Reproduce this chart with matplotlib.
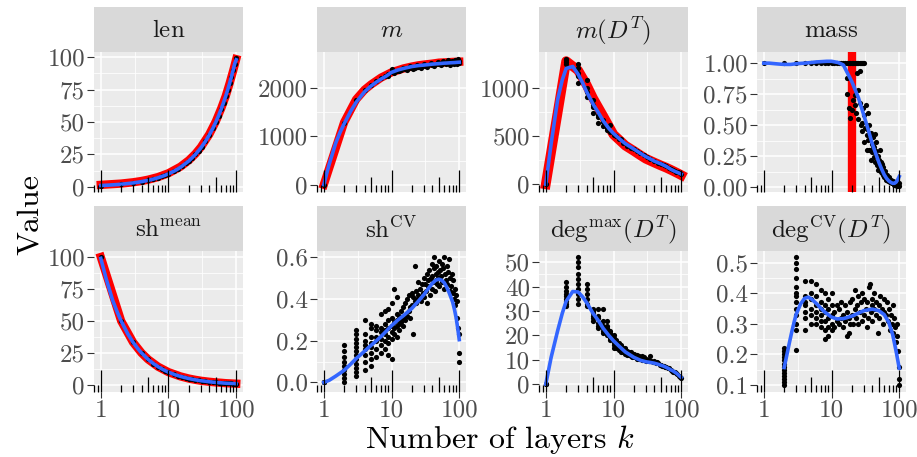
import matplotlib
matplotlib.use('Agg')
import matplotlib.pyplot as plt
import matplotlib.transforms as mtransforms

plt.rcParams['font.family'] = 'serif'
plt.rcParams['font.serif'] = ['cmr10']
plt.rcParams['mathtext.fontset'] = 'cm'
plt.rcParams['axes.formatter.use_mathtext'] = True
plt.rcParams['axes.unicode_minus'] = False

# ---- data ----
k_grid = [1, 2, 3, 4, 5, 6, 7, 8, 9, 10, 12, 14, 16, 18, 20, 22, 25, 28, 31, 35,
          40, 45, 50, 55, 60, 65, 70, 75, 80, 85, 90, 95, 100]

len_pts = [1, 2, 3, 4, 5, 6, 7, 8, 9, 10, 12, 14, 16, 18, 20, 22, 25, 28, 31, 35,
           40, 45, 50, 55, 60, 65, 70, 75, 80, 85, 90, 95, 99]
shmean_pts = [100, 50, 33.3, 25, 20, 16.7, 14.3, 12.5, 11.1, 10, 8.3, 7.1, 6.3, 5.6,
              5, 4.5, 4, 3.6, 3.2, 2.9, 2.5, 2.2, 2, 1.8, 1.7, 1.5, 1.4, 1.3, 1.25,
              1.2, 1.1, 1.05, 1.0]
m_pts = [0, 1280, 1750, 1950, 2060, 2150, 2200, 2250, 2290, 2330, 2350, 2370, 2390,
         2400, 2410, 2420, 2440, 2450, 2460, 2470, 2480, 2490, 2495, 2500, 2505, 2510,
         2510, 2520, 2520, 2525, 2530, 2535, 2545]
m_extra_k = [9, 10, 11, 13, 15, 17, 19, 21, 24, 27, 30, 33, 38, 43, 48, 53, 58, 63,
             68, 73, 78, 83, 88, 93, 97, 100]
m_extra_v = [2250, 2380, 2300, 2340, 2420, 2360, 2450, 2380, 2480, 2420, 2500, 2440,
             2520, 2460, 2540, 2470, 2560, 2490, 2570, 2480, 2560, 2500, 2580, 2500,
             2590, 2510]
mdt_pts = [0, 1290, 1150, 960, 820, 720, 640, 580, 540, 510, 470, 430, 400, 380, 365,
           345, 320, 300, 285, 265, 240, 225, 212, 200, 185, 172, 160, 150, 140, 130,
           122, 115, 108]
mdt_extra_k = [2, 2, 2, 3, 3, 3, 3, 4, 4, 4, 5, 5, 5, 6, 6, 7, 7, 8, 9, 11, 13]
mdt_extra_v = [1250, 1270, 1300, 1050, 1120, 1200, 1250, 900, 1000, 1080, 740, 800,
               870, 630, 700, 600, 665, 560, 610, 500, 470]

# theoretical curves (red)
red_k = [1, 2, 3, 4, 5, 7, 10, 15, 20, 25, 30, 40, 50, 60, 70, 80, 90, 100]
len_red = [1.5, 2.5, 3.5, 4.5, 5.5, 7.5, 10.5, 15.5, 20.5, 25.5, 30.5, 40.5, 50.5, 60.5,
           70, 80, 89.5, 98.5]
shmean_red = [100, 50, 33.3, 25, 20, 14.3, 10, 6.7, 5, 4, 3.3, 2.5, 2, 1.7, 1.4, 1.25,
              1.1, 1]
m_red = [0, 1290, 1760, 1960, 2070, 2210, 2320, 2400, 2440, 2465, 2480, 2500, 2520, 2525,
         2530, 2535, 2538, 2540]
mdt_red = [0, 1275, 1180, 1030, 890, 710, 515, 400, 345, 300, 265, 225, 195, 172, 150,
           130, 112, 95]
mass_red_k = 20

# smooth fits (blue)
fit_k = [1, 1.2, 1.5, 1.75, 2, 2.5, 3, 3.5, 4, 5, 6, 7, 8.5, 10, 12.5, 15, 20, 25, 30,
         35, 40, 45, 50, 55, 60, 65, 70, 75, 80, 85, 90, 95, 100]
len_fit = [1, 1.2, 1.5, 1.75, 2, 2.5, 3, 3.5, 4, 5, 6, 7, 8.5, 10, 12.5, 15, 20, 25, 30,
           35, 40, 45, 50, 55, 60, 65, 70, 75, 80, 85, 90, 95, 98]
shmean_fit = [99, 83, 66, 57, 50, 40, 33.3, 28.6, 25, 20, 16.7, 14.3, 11.8, 10, 8, 6.7,
              5, 4, 3.3, 2.9, 2.5, 2.2, 2, 1.8, 1.7, 1.5, 1.4, 1.3, 1.25, 1.2, 1.1, 1.05,
              1]
m_fit = [0, 420, 860, 1090, 1260, 1520, 1700, 1820, 1920, 2040, 2120, 2180, 2250, 2320,
         2370, 2400, 2440, 2460, 2470, 2480, 2490, 2495, 2500, 2505, 2510, 2512, 2515,
         2518, 2520, 2522, 2525, 2528, 2530]
mdt_fit = [0, 420, 880, 1080, 1200, 1220, 1140, 1050, 960, 830, 740, 660, 580, 527, 465,
           420, 365, 320, 286, 262, 240, 225, 212, 198, 185, 170, 155, 145, 135, 127, 120,
           112, 105]
mass_fit = [1.0, 1.0, 0.995, 0.992, 0.99, 0.99, 0.995, 0.998, 1.0, 1.005, 1.01, 1.012,
            1.015, 1.015, 1.005, 0.985, 0.85, 0.72, 0.58, 0.46, 0.35, 0.27, 0.2, 0.145,
            0.1, 0.07, 0.05, 0.038, 0.03, 0.03, 0.04, 0.06, 0.085]
shcv_fit = [0.0, 0.01, 0.03, 0.045, 0.058, 0.088, 0.114, 0.133, 0.15, 0.178, 0.2, 0.22,
            0.248, 0.272, 0.3, 0.32, 0.355, 0.39, 0.42, 0.45, 0.475, 0.49, 0.495, 0.49,
            0.478, 0.458, 0.435, 0.41, 0.385, 0.35, 0.31, 0.26, 0.205]
degmax_fit = [0, 11, 22, 29, 34, 38, 37.8, 35.8, 33.5, 29, 26, 23, 20, 17.8, 15.2, 13.2,
              11, 9.8, 9.2, 8.9, 8.6, 8.2, 7.8, 7.4, 6.9, 6.4, 5.9, 5.5, 5.0, 4.5, 3.9,
              3.3, 2.8]

degcv_fit_k = [2, 2.2, 2.4, 2.6, 2.8, 3, 3.5, 4, 4.5, 5, 6, 7, 8, 10, 12, 15, 20, 25, 30,
               40, 50, 60, 70, 80, 90, 100]
degcv_fit = [0.157, 0.2, 0.24, 0.275, 0.305, 0.33, 0.365, 0.383, 0.387, 0.382, 0.366,
             0.35, 0.338, 0.322, 0.316, 0.317, 0.325, 0.335, 0.343, 0.348, 0.343, 0.33,
             0.305, 0.265, 0.21, 0.155]

# scattered panels: k and value, ten to a line
mass_k = [1, 2, 3, 4, 5, 6, 7, 8, 9, 10,
          11, 12, 13, 14, 15, 16, 17, 18, 19, 20,
          21, 22, 23, 24, 25, 26, 27, 28, 29, 30,
          17, 17, 18, 19, 20, 21, 22, 22, 23, 24,
          25, 25, 26, 26, 27, 28, 28, 29, 30, 30,
          31, 32, 33, 33, 34, 35, 35, 36, 36, 37,
          38, 38, 39, 40, 41, 41, 42, 43, 44, 44,
          45, 46, 46, 47, 48, 49, 50, 51, 52, 53,
          54, 55, 56, 57, 58, 60, 61, 62, 64, 65,
          66, 68, 70, 72, 73, 76, 78, 79, 82, 85,
          86, 88, 91, 93, 94, 97, 99, 100]
mass_v = [1.0, 1.0, 1.0, 1.0, 1.0, 1.0, 1.0, 1.0, 1.0, 1.0,
          1.0, 1.0, 1.0, 1.0, 1.0, 1.0, 1.0, 1.0, 1.0, 1.0,
          1.0, 1.0, 1.0, 1.0, 1.0, 1.0, 1.0, 1.0, 1.0, 1.0,
          0.88, 0.75, 0.64, 0.56, 0.62, 0.70, 0.74, 0.66, 0.60, 0.92,
          0.78, 0.55, 0.94, 0.68, 0.50, 0.52, 0.45, 0.64, 0.58, 0.36,
          0.48, 0.66, 0.42, 0.30, 0.47, 0.38, 0.60, 0.50, 0.30, 0.30,
          0.44, 0.22, 0.35, 0.28, 0.40, 0.33, 0.24, 0.32, 0.20, 0.43,
          0.29, 0.36, 0.26, 0.18, 0.25, 0.14, 0.15, 0.22, 0.30, 0.20,
          0.12, 0.19, 0.11, 0.10, 0.16, 0.08, 0.09, 0.13, 0.06, 0.07,
          0.10, 0.05, 0.08, 0.04, 0.04, 0.06, 0.03, 0.03, 0.05, 0.02,
          0.04, 0.03, 0.02, 0.01, 0.01, 0.02, 0.03, 0.01]

shcv_k = [1, 1, 1, 2, 2, 2, 2, 2, 2, 2,
          2, 2, 3, 3, 3, 3, 3, 3, 3, 3,
          3, 3, 3, 3, 4, 4, 4, 4, 4, 4,
          4, 4, 5, 5, 5, 5, 5, 5, 5, 5,
          6, 6, 6, 6, 6, 6, 7, 7, 7, 7,
          7, 7, 8, 8, 8, 8, 8, 8, 9, 9,
          9, 9, 9, 9, 10, 10, 10, 10, 10, 10,
          11, 11, 11, 11, 12, 12, 12, 12, 12, 13,
          13, 13, 14, 14, 14, 15, 15, 15, 16, 16,
          17, 17, 18, 18, 19, 19, 20, 20, 21, 21,
          22, 22, 23, 23, 24, 25, 25, 26, 27, 28,
          29, 30, 30, 31, 32, 33, 34, 35, 35, 36,
          37, 38, 39, 40, 40, 41, 42, 43, 44, 45,
          45, 46, 47, 48, 49, 50, 50, 52, 53, 55,
          56, 58, 60, 60, 62, 64, 65, 66, 68, 70,
          72, 74, 76, 78, 80, 82, 84, 86, 88, 90,
          92, 94, 96, 98, 100, 100]
shcv_v = [0.0, 0.0, 0.0, 0.0, 0.02, 0.04, 0.06, 0.08, 0.10, 0.12,
          0.15, 0.18, 0.03, 0.05, 0.07, 0.09, 0.11, 0.13, 0.15, 0.17,
          0.19, 0.21, 0.23, 0.25, 0.06, 0.10, 0.13, 0.16, 0.18, 0.20,
          0.23, 0.30, 0.08, 0.11, 0.14, 0.17, 0.19, 0.22, 0.26, 0.28,
          0.12, 0.16, 0.20, 0.22, 0.25, 0.27, 0.14, 0.18, 0.21, 0.24,
          0.26, 0.33, 0.16, 0.20, 0.23, 0.25, 0.28, 0.34, 0.13, 0.19,
          0.22, 0.26, 0.30, 0.35, 0.11, 0.21, 0.24, 0.27, 0.31, 0.38,
          0.23, 0.26, 0.29, 0.45, 0.22, 0.27, 0.30, 0.33, 0.41, 0.25,
          0.28, 0.32, 0.29, 0.34, 0.30, 0.27, 0.31, 0.36, 0.30, 0.38,
          0.32, 0.40, 0.34, 0.42, 0.36, 0.31, 0.37, 0.43, 0.23, 0.41,
          0.39, 0.56, 0.44, 0.38, 0.40, 0.42, 0.48, 0.45, 0.39, 0.47,
          0.43, 0.50, 0.41, 0.47, 0.44, 0.52, 0.38, 0.49, 0.46, 0.54,
          0.42, 0.50, 0.57, 0.45, 0.51, 0.48, 0.55, 0.60, 0.44, 0.52,
          0.49, 0.56, 0.47, 0.53, 0.50, 0.58, 0.46, 0.54, 0.51, 0.57,
          0.48, 0.55, 0.60, 0.45, 0.52, 0.49, 0.56, 0.47, 0.53, 0.59,
          0.44, 0.50, 0.46, 0.52, 0.43, 0.49, 0.40, 0.45, 0.37, 0.42,
          0.31, 0.39, 0.26, 0.23, 0.10, 0.14]

degmax_k = [1, 1, 2, 2, 2, 2, 2, 2, 2, 2,
            2, 3, 3, 3, 3, 3, 3, 3, 3, 3,
            3, 4, 4, 4, 4, 4, 4, 5, 5, 5,
            5, 5, 5, 6, 6, 6, 6, 6, 6, 7,
            7, 7, 7, 7, 7, 8, 8, 8, 8, 8,
            8, 9, 9, 9, 9, 9, 10, 10, 10, 10,
            10, 10, 11, 11, 11, 11, 12, 12, 12, 12,
            13, 13, 13, 14, 14, 14, 15, 15, 15, 16,
            16, 17, 17, 18, 18, 19, 19, 20, 20, 22,
            22, 24, 24, 26, 26, 28, 28, 30, 30, 32,
            33, 35, 36, 38, 40, 42, 44, 46, 48, 50,
            52, 55, 58, 60, 63, 66, 70, 73, 76, 80,
            84, 88, 92, 96, 100]
degmax_v = [0, 0, 32, 33, 34, 35, 36, 37, 38, 40,
            42, 33, 35, 37, 39, 41, 43, 45, 48, 50,
            52, 32, 33, 35, 37, 39, 41, 26, 27, 28,
            29, 30, 31, 23, 24, 25, 27, 28, 31, 21,
            22, 23, 24, 26, 31, 20, 21, 22, 23, 24,
            26, 18, 19, 20, 21, 22, 15, 16, 17, 18,
            19, 20, 15, 16, 17, 18, 14, 15, 16, 17,
            13, 14.5, 16, 13, 14, 15, 12.5, 13.5, 15, 12,
            13.5, 12, 13, 11.5, 13, 11, 12.5, 11, 12.5, 10.5,
            12, 10.5, 11.5, 10, 11.5, 10, 11, 9.5, 10.5, 10,
            9.5, 11.5, 9.5, 9, 9.5, 8.5, 9, 8.5, 8, 8,
            7.5, 7.5, 7, 7, 6.5, 6.5, 6, 5.5, 5, 5,
            4.5, 4, 3.5, 3, 2.5]

degcv_k = [2, 2, 2, 2, 2, 2, 2, 2, 2, 2,
           2, 2, 2, 3, 3, 3, 3, 3, 3, 3,
           3, 3, 3, 3, 3, 3, 4, 4, 4, 4,
           4, 4, 4, 5, 5, 5, 5, 5, 5, 6,
           6, 6, 6, 6, 6, 7, 7, 7, 7, 7,
           7, 8, 8, 8, 8, 8, 8, 9, 9, 9,
           9, 9, 10, 10, 10, 10, 10, 11, 11, 12,
           12, 13, 13, 14, 14, 15, 15, 16, 16, 17,
           17, 18, 18, 19, 19, 20, 20, 21, 22, 22,
           23, 24, 25, 25, 26, 27, 28, 28, 30, 30,
           32, 33, 34, 35, 36, 37, 38, 39, 40, 40,
           42, 43, 45, 46, 48, 50, 50, 52, 55, 57,
           60, 60, 63, 65, 68, 70, 72, 75, 78, 80,
           82, 85, 88, 90, 92, 94, 96, 98, 100, 100]
degcv_v = [0.10, 0.11, 0.12, 0.13, 0.14, 0.15, 0.16, 0.17, 0.18, 0.19,
           0.20, 0.21, 0.22, 0.215, 0.28, 0.30, 0.33, 0.35, 0.37, 0.39,
           0.40, 0.42, 0.45, 0.48, 0.50, 0.52, 0.28, 0.32, 0.34, 0.36,
           0.37, 0.39, 0.44, 0.30, 0.33, 0.35, 0.38, 0.40, 0.44, 0.30,
           0.32, 0.34, 0.36, 0.39, 0.43, 0.29, 0.31, 0.33, 0.35, 0.37,
           0.41, 0.25, 0.28, 0.31, 0.34, 0.36, 0.40, 0.26, 0.29, 0.32,
           0.35, 0.38, 0.28, 0.30, 0.33, 0.36, 0.40, 0.29, 0.34, 0.31,
           0.36, 0.30, 0.35, 0.32, 0.37, 0.29, 0.33, 0.31, 0.36, 0.26,
           0.34, 0.27, 0.32, 0.30, 0.37, 0.33, 0.38, 0.30, 0.35, 0.41,
           0.32, 0.36, 0.30, 0.39, 0.34, 0.37, 0.31, 0.40, 0.33, 0.38,
           0.35, 0.29, 0.37, 0.32, 0.42, 0.43, 0.34, 0.38, 0.31, 0.36,
           0.35, 0.40, 0.33, 0.37, 0.27, 0.36, 0.32, 0.39, 0.35, 0.30,
           0.38, 0.34, 0.33, 0.37, 0.31, 0.35, 0.28, 0.33, 0.30, 0.36,
           0.27, 0.32, 0.29, 0.24, 0.30, 0.26, 0.21, 0.16, 0.10, 0.12]

# ---- layout (pixels of the 917x457 reference) ----
W, H = 917, 457
panel_left = [94, 317, 539, 757]
panel_w = 149
rows = [(7, 52, 192), (206, 251, 392)]  # strip top, panel top, panel bottom

BG = '#EBEBEB'
STRIP = '#D9D9D9'
RED = '#FF0000'
BLUE = '#3366FF'
FS = 18

fig = plt.figure(figsize=(W / 100, H / 100), dpi=100)


def add_panel(col, row, title, ylim, yticks, ylabels):
    strip_top, top, bottom = rows[row]
    x0 = panel_left[col]
    ax = fig.add_axes([x0 / W, 1 - bottom / H, panel_w / W, (bottom - top) / H])
    st = fig.add_axes([x0 / W, 1 - top / H, panel_w / W, (top - strip_top) / H])
    st.set_facecolor(STRIP)
    st.set_xticks([])
    st.set_yticks([])
    for s in st.spines.values():
        s.set_visible(False)
    st.text(0.5, 0.47, title, ha='center', va='center', fontsize=FS, color='#1A1A1A',
            transform=st.transAxes)

    ax.set_facecolor(BG)
    for s in ax.spines.values():
        s.set_visible(False)
    ax.set_xscale('log')
    ax.set_xlim(10 ** -0.1, 10 ** 2.1)
    ax.set_ylim(*ylim)
    ax.set_xticks([1, 10, 100])
    ax.set_xticks([10 ** 0.5, 10 ** 1.5], minor=True)
    ax.set_yticks(yticks)
    ax.set_yticklabels(ylabels)
    mids = [(a + b) / 2 for a, b in zip(yticks[:-1], yticks[1:])]
    ax.set_yticks(mids, minor=True)
    ax.grid(which='major', color='white', lw=1.1, zorder=0)
    ax.grid(which='minor', color='white', lw=0.55, zorder=0)
    ax.set_axisbelow(True)
    ax.tick_params(which='minor', length=0)
    ax.tick_params(axis='y', which='major', length=5, width=0.8, color='#333333',
                   labelsize=FS, labelcolor='#4D4D4D', pad=1.5)
    if row == 1:
        ax.set_xticklabels(['1', '10', '100'])
        ax.tick_params(axis='x', which='major', length=4, width=0.8, color='#333333',
                       labelsize=FS, labelcolor='#4D4D4D', pad=1.5)
    else:
        ax.tick_params(axis='x', which='major', length=0, labelbottom=False)

    # log ticks along the bottom, inside the panel
    trans = mtransforms.blended_transform_factory(ax.transData, ax.transAxes)
    h = bottom - top
    for dec in [0.1, 1, 10]:
        for m in range(1, 10):
            x = m * dec
            if x < 10 ** -0.1 or x > 100:
                continue
            if m == 1:
                L = 22.5
            elif m == 5:
                L = 15
            else:
                L = 7.5
            ax.plot([x, x], [0, L / h], color='black', lw=0.9, transform=trans,
                    zorder=5, clip_on=False, solid_capstyle='butt')
    ax.plot([100, 100], [0, 22.5 / h], color='black', lw=0.9, transform=trans,
            zorder=5, clip_on=False, solid_capstyle='butt')
    return ax


PT = dict(s=14, color='black', linewidths=0, zorder=3)
RED_LW = 6
BLUE_LW = 2.6

# len
ax = add_panel(0, 0, r'$\mathrm{len}$', (-4, 104), [0, 25, 50, 75, 100],
               ['0', '25', '50', '75', '100'])
ax.plot(red_k, len_red, color=RED, lw=RED_LW, zorder=2)
ax.scatter(k_grid, len_pts, **PT)
ax.plot(fit_k, len_fit, color=BLUE, lw=BLUE_LW, zorder=4)

# m
ax = add_panel(1, 0, r'$m$', (-150, 2740), [0, 1000, 2000], ['0', '1000', '2000'])
ax.plot(red_k, m_red, color=RED, lw=RED_LW, zorder=2)
ax.scatter(k_grid, m_pts, **PT)
ax.scatter(m_extra_k, m_extra_v, **PT)
ax.plot(fit_k, m_fit, color=BLUE, lw=BLUE_LW, zorder=4)

# m(D^T)
ax = add_panel(2, 0, r'$m(D^T)$', (-80, 1370), [0, 500, 1000], ['0', '500', '1000'])
ax.plot(red_k, mdt_red, color=RED, lw=RED_LW + 1, zorder=2)
ax.scatter(k_grid, mdt_pts, **PT)
ax.scatter(mdt_extra_k, mdt_extra_v, **PT)
ax.plot(fit_k, mdt_fit, color=BLUE, lw=BLUE_LW, zorder=4)

# mass
ax = add_panel(3, 0, r'$\mathrm{mass}$', (-0.04, 1.09), [0, 0.25, 0.5, 0.75, 1.0],
               ['0.00', '0.25', '0.50', '0.75', '1.00'])
ax.axvline(mass_red_k, color=RED, lw=6, zorder=2)
ax.scatter(mass_k, mass_v, **PT)
ax.plot(fit_k, mass_fit, color=BLUE, lw=BLUE_LW, zorder=4)

# sh^mean
ax = add_panel(0, 1, r'$\mathrm{sh}^{\mathrm{mean}}$', (-5.5, 104.7), [0, 25, 50, 75, 100],
               ['0', '25', '50', '75', '100'])
ax.plot(red_k, shmean_red, color=RED, lw=RED_LW, zorder=2)
ax.scatter(k_grid, shmean_pts, **PT)
ax.plot(fit_k, shmean_fit, color=BLUE, lw=BLUE_LW, zorder=4)

# sh^CV
ax = add_panel(1, 1, r'$\mathrm{sh}^{\mathrm{CV}}$', (-0.046, 0.63), [0, 0.2, 0.4, 0.6],
               ['0.0', '0.2', '0.4', '0.6'])
ax.scatter(shcv_k, shcv_v, **PT)
ax.plot(fit_k, shcv_fit, color=BLUE, lw=BLUE_LW, zorder=4)

# deg^max(D^T)
ax = add_panel(2, 1, r'$\mathrm{deg}^{\max}(D^T)$', (-3.2, 54.6), [0, 10, 20, 30, 40, 50],
               ['0', '10', '20', '30', '40', '50'])
ax.scatter(degmax_k, degmax_v, **PT)
ax.plot(fit_k, degmax_fit, color=BLUE, lw=BLUE_LW, zorder=4)

# deg^CV(D^T)
ax = add_panel(3, 1, r'$\mathrm{deg}^{\mathrm{CV}}(D^T)$', (0.077, 0.538),
               [0.1, 0.2, 0.3, 0.4, 0.5], ['0.1', '0.2', '0.3', '0.4', '0.5'])
ax.scatter(degcv_k, degcv_v, **PT)
ax.plot(degcv_fit_k, degcv_fit, color=BLUE, lw=BLUE_LW, zorder=4)

fig.text(500 / W, 1 - 440 / H, r'Number of layers $k$', ha='center', va='center',
         fontsize=23, color='black')
fig.text(30 / W, 1 - 215 / H, 'Value', ha='center', va='center', rotation=90,
         fontsize=23, color='black')

fig.savefig('out.png', dpi=100)
